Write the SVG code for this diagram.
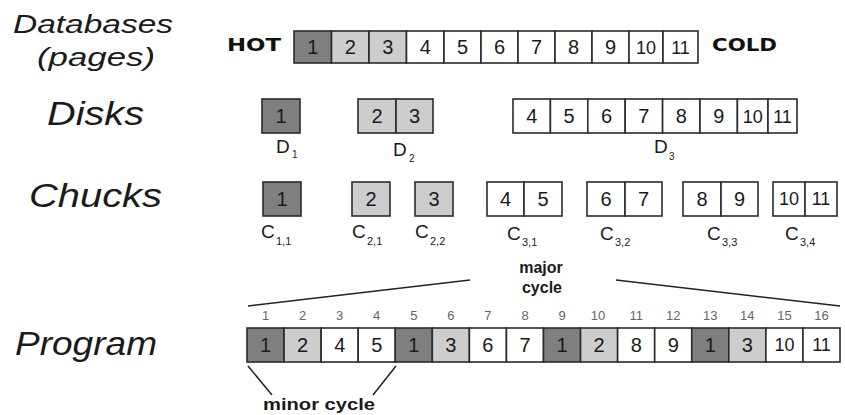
<svg xmlns="http://www.w3.org/2000/svg" width="845" height="415" viewBox="0 0 845 415">
<style>
.c{stroke:#2b2b2b;stroke-width:1.6}
.dk{fill:#7f7f7f}.lt{fill:#cdcdcd}.wt{fill:#fff}
.n{font-family:"Liberation Sans",Arial,sans-serif;font-size:20px;fill:#1a1a1a;text-anchor:middle}
.n2{font-family:"Liberation Sans",Arial,sans-serif;font-size:18px;fill:#1a1a1a;text-anchor:middle}
.idx{font-family:"Liberation Sans",Arial,sans-serif;font-size:13px;fill:#666;text-anchor:middle}
.lbl{font-family:"Liberation Sans",Arial,sans-serif;font-style:italic;fill:#1a1a1a}
.sub{font-family:"Liberation Sans",Arial,sans-serif;fill:#1a1a1a}
.hv{font-family:"DejaVu Sans","Liberation Sans",sans-serif;font-weight:bold;font-size:17px;fill:#111}
.bd{font-family:"Liberation Sans",Arial,sans-serif;font-weight:bold;fill:#1a1a1a}
.ln{stroke:#222;stroke-width:1.5;fill:none}
</style>

<g id="row-labels">
<text class="lbl" x="13" y="33" font-size="25" textLength="160" lengthAdjust="spacingAndGlyphs">Databases</text>
<text class="lbl" x="37" y="66" font-size="25" textLength="118" lengthAdjust="spacingAndGlyphs">(pages)</text>
<text class="lbl" x="47" y="125" font-size="33" textLength="97" lengthAdjust="spacingAndGlyphs">Disks</text>
<text class="lbl" x="29" y="207" font-size="33" textLength="133" lengthAdjust="spacingAndGlyphs">Chucks</text>
<text class="lbl" x="15" y="355" font-size="33" textLength="142" lengthAdjust="spacingAndGlyphs">Program</text>
</g>

<g id="database">
<text class="hv" x="227" y="51" textLength="54" lengthAdjust="spacingAndGlyphs">HOT</text>
<text class="hv" x="712" y="51" textLength="65" lengthAdjust="spacingAndGlyphs">COLD</text>
<rect class="c dk" x="294" y="31" width="37.5" height="32"/>
<rect class="c lt" x="331.5" y="31" width="37.5" height="32"/>
<rect class="c lt" x="369" y="31" width="37.5" height="32"/>
<rect class="c wt" x="406.5" y="31" width="37.5" height="32"/>
<rect class="c wt" x="444" y="31" width="37" height="32"/>
<rect class="c wt" x="481" y="31" width="37" height="32"/>
<rect class="c wt" x="518" y="31" width="37" height="32"/>
<rect class="c wt" x="555" y="31" width="37" height="32"/>
<rect class="c wt" x="592" y="31" width="37" height="32"/>
<rect class="c wt" x="629" y="31" width="34" height="32"/>
<rect class="c wt" x="663" y="31" width="35" height="32"/>
<text class="n" x="312.8" y="54">1</text>
<text class="n" x="350.3" y="54">2</text>
<text class="n" x="387.8" y="54">3</text>
<text class="n" x="425.3" y="54">4</text>
<text class="n" x="462.5" y="54">5</text>
<text class="n" x="499.5" y="54">6</text>
<text class="n" x="536.5" y="54">7</text>
<text class="n" x="573.5" y="54">8</text>
<text class="n" x="610.5" y="54">9</text>
<text class="n2" x="646" y="54">10</text>
<text class="n2" x="680.5" y="54">11</text>
</g>

<g id="disk-D1">
<rect class="c dk" x="262" y="99" width="38" height="34"/>
<text class="n" x="281" y="123">1</text>
<text class="sub" x="276" y="153" font-size="19">D</text>
<text class="sub" x="292" y="158" font-size="10">1</text>
</g>
<g id="disk-D2">
<rect class="c lt" x="358" y="99" width="38" height="34"/>
<rect class="c lt" x="396" y="99" width="37" height="34"/>
<text class="n" x="377" y="123">2</text>
<text class="n" x="414.5" y="123">3</text>
<text class="sub" x="393" y="156" font-size="19">D</text>
<text class="sub" x="409" y="162" font-size="10">2</text>
</g>
<g id="disk-D3">
<rect class="c wt" x="513" y="99" width="37.4" height="34"/>
<rect class="c wt" x="550.4" y="99" width="37.4" height="34"/>
<rect class="c wt" x="587.8" y="99" width="37.4" height="34"/>
<rect class="c wt" x="625.2" y="99" width="37.4" height="34"/>
<rect class="c wt" x="662.6" y="99" width="37.4" height="34"/>
<rect class="c wt" x="700" y="99" width="37.4" height="34"/>
<rect class="c wt" x="737.4" y="99" width="30.6" height="34"/>
<rect class="c wt" x="768" y="99" width="29" height="34"/>
<text class="n" x="531.7" y="123">4</text>
<text class="n" x="569.1" y="123">5</text>
<text class="n" x="606.5" y="123">6</text>
<text class="n" x="643.9" y="123">7</text>
<text class="n" x="681.3" y="123">8</text>
<text class="n" x="718.7" y="123">9</text>
<text class="n2" x="752.7" y="123">10</text>
<text class="n2" x="782.5" y="123">11</text>
<text class="sub" x="654" y="153" font-size="19">D</text>
<text class="sub" x="669" y="160" font-size="10">3</text>
</g>

<g id="chunk-C11">
<rect class="c dk" x="263" y="182" width="38" height="34"/>
<text class="n" x="282" y="206">1</text>
<text class="sub" x="261" y="238" font-size="19">C</text>
<text class="sub" x="276" y="245" font-size="11">1,1</text>
</g>
<g id="chunk-C21">
<rect class="c lt" x="352" y="182" width="38" height="34"/>
<text class="n" x="371" y="206">2</text>
<text class="sub" x="352" y="238" font-size="19">C</text>
<text class="sub" x="367" y="245" font-size="11">2,1</text>
</g>
<g id="chunk-C22">
<rect class="c lt" x="415" y="182" width="38" height="34"/>
<text class="n" x="434" y="206">3</text>
<text class="sub" x="415" y="238" font-size="19">C</text>
<text class="sub" x="430" y="245" font-size="11">2,2</text>
</g>
<g id="chunk-C31">
<rect class="c wt" x="487" y="182" width="37" height="34"/>
<rect class="c wt" x="524" y="182" width="38" height="34"/>
<text class="n" x="505.5" y="206">4</text>
<text class="n" x="543" y="206">5</text>
<text class="sub" x="507" y="240" font-size="19">C</text>
<text class="sub" x="522" y="246" font-size="11">3,1</text>
</g>
<g id="chunk-C32">
<rect class="c wt" x="587" y="182" width="38" height="34"/>
<rect class="c wt" x="625" y="182" width="37" height="34"/>
<text class="n" x="606" y="206">6</text>
<text class="n" x="643.5" y="206">7</text>
<text class="sub" x="600" y="240" font-size="19">C</text>
<text class="sub" x="615" y="246" font-size="11">3,2</text>
</g>
<g id="chunk-C33">
<rect class="c wt" x="683" y="182" width="38" height="34"/>
<rect class="c wt" x="721" y="182" width="37" height="34"/>
<text class="n" x="702" y="206">8</text>
<text class="n" x="739.5" y="206">9</text>
<text class="sub" x="707" y="240" font-size="19">C</text>
<text class="sub" x="722" y="246" font-size="11">3,3</text>
</g>
<g id="chunk-C34">
<rect class="c wt" x="773" y="182" width="32" height="34"/>
<rect class="c wt" x="805" y="182" width="32" height="34"/>
<text class="n2" x="789" y="205">10</text>
<text class="n2" x="821" y="205">11</text>
<text class="sub" x="785" y="240" font-size="19">C</text>
<text class="sub" x="800" y="246" font-size="11">3,4</text>
</g>

<g id="program">
<rect class="c dk" x="247" y="328" width="37.06" height="34"/>
<rect class="c lt" x="284.06" y="328" width="37.06" height="34"/>
<rect class="c wt" x="321.13" y="328" width="37.06" height="34"/>
<rect class="c wt" x="358.19" y="328" width="37.06" height="34"/>
<rect class="c dk" x="395.25" y="328" width="37.06" height="34"/>
<rect class="c lt" x="432.31" y="328" width="37.06" height="34"/>
<rect class="c wt" x="469.38" y="328" width="37.06" height="34"/>
<rect class="c wt" x="506.44" y="328" width="37.06" height="34"/>
<rect class="c dk" x="543.5" y="328" width="37.06" height="34"/>
<rect class="c lt" x="580.56" y="328" width="37.06" height="34"/>
<rect class="c wt" x="617.63" y="328" width="37.06" height="34"/>
<rect class="c wt" x="654.69" y="328" width="37.06" height="34"/>
<rect class="c dk" x="691.75" y="328" width="37.06" height="34"/>
<rect class="c lt" x="728.81" y="328" width="37.06" height="34"/>
<rect class="c wt" x="765.88" y="328" width="37.06" height="34"/>
<rect class="c wt" x="802.94" y="328" width="37.06" height="34"/>
<text class="n" x="265.5" y="352">1</text>
<text class="n" x="302.6" y="352">2</text>
<text class="n" x="339.7" y="352">4</text>
<text class="n" x="376.7" y="352">5</text>
<text class="n" x="413.8" y="352">1</text>
<text class="n" x="450.8" y="352">3</text>
<text class="n" x="487.9" y="352">6</text>
<text class="n" x="525" y="352">7</text>
<text class="n" x="562" y="352">1</text>
<text class="n" x="599.1" y="352">2</text>
<text class="n" x="636.2" y="352">8</text>
<text class="n" x="673.2" y="352">9</text>
<text class="n" x="710.3" y="352">1</text>
<text class="n" x="747.3" y="352">3</text>
<text class="n2" x="784.4" y="351">10</text>
<text class="n2" x="821.5" y="351">11</text>
<text class="idx" x="265.5" y="320">1</text>
<text class="idx" x="302.6" y="320">2</text>
<text class="idx" x="339.7" y="320">3</text>
<text class="idx" x="376.7" y="320">4</text>
<text class="idx" x="413.8" y="320">5</text>
<text class="idx" x="450.8" y="320">6</text>
<text class="idx" x="487.9" y="320">7</text>
<text class="idx" x="525" y="320">8</text>
<text class="idx" x="562" y="320">9</text>
<text class="idx" x="598" y="320">10</text>
<text class="idx" x="636.2" y="320">11</text>
<text class="idx" x="673.2" y="320">12</text>
<text class="idx" x="710.3" y="320">13</text>
<text class="idx" x="747.3" y="320">14</text>
<text class="idx" x="784.4" y="320">15</text>
<text class="idx" x="821.5" y="320">16</text>
</g>

<g id="connectors">
<line class="ln" x1="248" y1="306" x2="470" y2="280"/>
<line class="ln" x1="616" y1="280" x2="840" y2="306"/>
<line class="ln" x1="248" y1="366" x2="272" y2="395"/>
<line class="ln" x1="396" y1="366" x2="373" y2="395"/>
</g>

<g id="cycle-labels">
<text class="bd" x="541" y="273" font-size="16" text-anchor="middle">major</text>
<text class="bd" x="542" y="293" font-size="16" text-anchor="middle">cycle</text>
<text class="bd" x="263" y="410" font-size="17" textLength="112" lengthAdjust="spacingAndGlyphs">minor cycle</text>
</g>
</svg>
